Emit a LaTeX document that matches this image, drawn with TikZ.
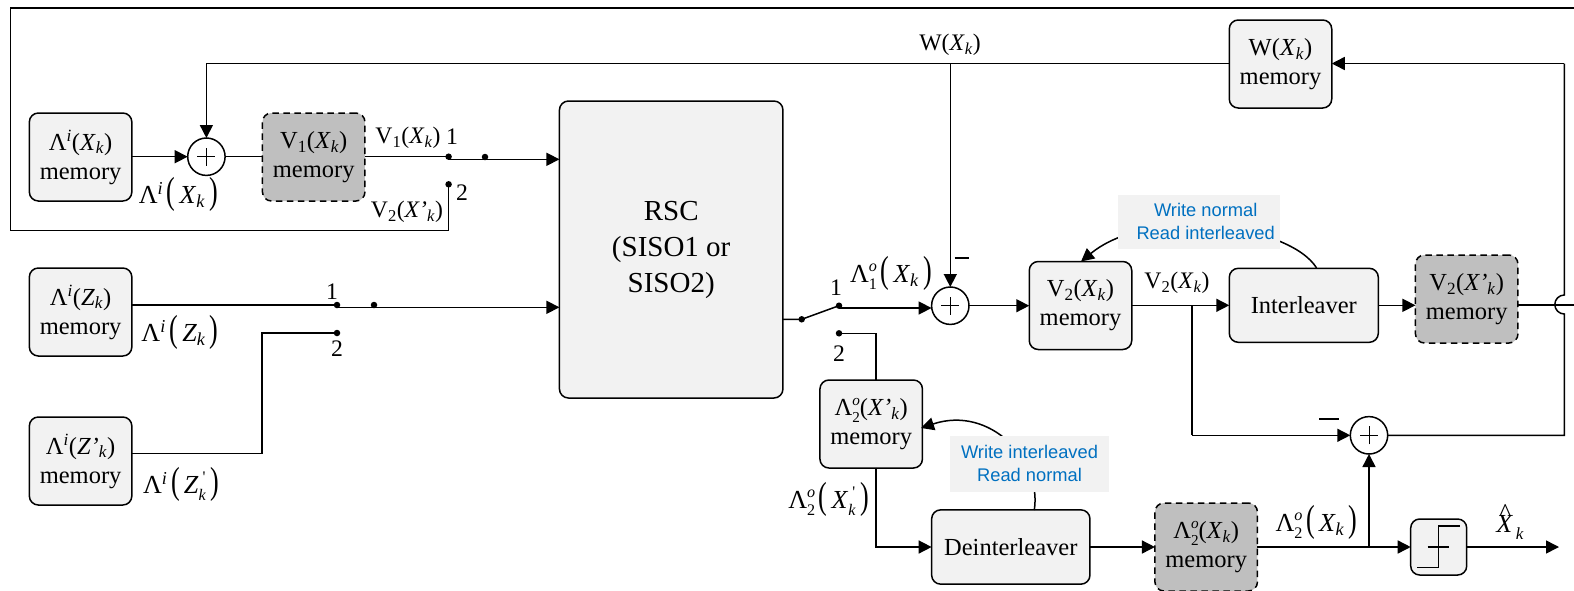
\documentclass[tikz,border=0pt]{standalone}
\usepackage{fontspec}
\setmainfont{Liberation Serif}
\newfontfamily\blue{Liberation Sans}
\usetikzlibrary{arrows.meta}
\definecolor{lightbox}{HTML}{F2F2F2}
\definecolor{graybox}{HTML}{BFBFBF}
\definecolor{noteblue}{HTML}{0070C0}
\newcommand{\ik}[1]{\textit{#1}\textsubscript{\textit{k}}}
\newcommand{\iq}[1]{\textit{#1’}\textsubscript{\textit{k}}}
\newcommand{\Li}{Λ\textsuperscript{\textit{i}}}
\newcommand{\stk}[2]{\rlap{\raisebox{0.42em}{\scalebox{0.62}{#1}}}\raisebox{-0.3em}{\scalebox{0.62}{#2}}}
\newcommand{\Lo}[1]{Λ\stk{\textit{o}}{#1}}
\newcommand{\bp}[1]{\scalebox{1}[1.45]{#1}}
\newcommand{\lbl}[2]{#1\hspace{0.14em}\bp{(}\hspace{0.16em}#2\hspace{0.16em}\bp{)}}
\newcommand{\kpr}[1]{\textit{#1}\stk{\hspace{0.25em}\textquotesingle}{\textit{k}}}
\newcommand{\hatX}{\textit{X}\llap{\raisebox{0.42em}{\textit{\^{}}\hspace{0.08em}}}}
\tikzset{
  every node/.style={font=\fontsize{24.5}{29}\selectfont, inner sep=0pt, outer sep=0pt, align=center},
  lightnode/.style={draw, line width=1.5pt, rounded corners=9pt, fill=lightbox, minimum width=102.5pt, minimum height=88pt},
  graynode/.style={draw, line width=1.5pt, rounded corners=9pt, fill=graybox, dash pattern=on 6.5pt off 4.5pt, minimum width=102.5pt, minimum height=88pt},
  sumnode/.style={circle, draw, line width=1.5pt, fill=white, minimum size=37.4pt,
    path picture={\draw[line width=1pt] ([xshift=-9pt]path picture bounding box.center) -- ([xshift=9pt]path picture bounding box.center)
      ([yshift=-9pt]path picture bounding box.center) -- ([yshift=9pt]path picture bounding box.center);}},
  dotnode/.style={circle, fill=black, minimum size=6.5pt},
  notebox/.style={fill=lightbox, text=noteblue, font=\blue\fontsize{18.3}{23}\selectfont},
  plainlabel/.style={font=\fontsize{23.7}{28}\selectfont},
  biglabel/.style={font=\fontsize{26}{30}\selectfont},
  wire/.style={line width=1.5pt},
  arr/.style={line width=1.5pt, -{Triangle[length=13pt,width=13pt]}},
}
\begin{document}
\begin{tikzpicture}[x=1pt,y=-1pt]
\useasboundingbox (0,0) rectangle (1574,590);
\clip (0,0) rectangle (1574,590);
% boxes
\node[lightnode] (lx) at (80.6,157) {\Li(\ik{X})\\memory};
\node[lightnode] (lz) at (80.6,312) {\Li(\ik{Z})\\memory};
\node[lightnode] (lzp) at (80.6,461) {\Li(\iq{Z})\\memory};
\node[graynode] (v1) at (313.7,157) {V\textsubscript{1}(\ik{X})\\memory};
\node[lightnode] (w) at (1280.5,64) {W(\ik{X})\\memory};
\node[lightnode, minimum width=223.5pt, minimum height=297pt, font=\fontsize{29}{36}\selectfont] (rsc) at (671.2,249.5) {RSC\\(SISO1 or\\SISO2)};
\node[lightnode] (v2) at (1080.5,305.5) {V\textsubscript{2}(\ik{X})\\memory};
\node[lightnode, minimum width=149pt, minimum height=74pt] (inter) at (1303.8,305.3) {Interleaver};
\node[graynode] (v2p) at (1466.7,299) {V\textsubscript{2}(\iq{X})\\memory};
\node[lightnode] (l2p) at (871.2,424) {\Lo{2}(\iq{X})\\memory};
\node[lightnode, minimum width=158.3pt, minimum height=74.3pt] (deint) at (1010.8,547) {Deinterleaver};
\node[graynode] (l2) at (1206.2,547) {\Lo{2}(\ik{X})\\memory};
\node[lightnode, minimum width=56pt, minimum height=56pt] (dec) at (1438.7,547) {};
\draw[line width=1.4pt] (1417,567.7) -- (1438.3,567.7) -- (1438.3,526) -- (1460,526);
\draw[line width=1.2pt] (1427.7,547) -- (1449.3,547);
% summing nodes
\node[sumnode] (s1) at (206.4,156.7) {};
\node[sumnode] (s2) at (950.3,305.7) {};
\node[sumnode] (s3) at (1369,435.3) {};
% switch contacts
\node[dotnode] (a1) at (448.6,156.7) {};
\node[dotnode] (a2) at (448.6,184.3) {};
\node[dotnode] (a3) at (485,157) {};
\node[dotnode] (b1) at (337,305) {};
\node[dotnode] (b2) at (337,333) {};
\node[dotnode] (b3) at (374,305) {};
\node[dotnode] (c0) at (801.7,319.3) {};
\node[dotnode] (c1) at (839,305.7) {};
\node[dotnode] (c2) at (839,333.3) {};
% free ends
\coordinate (edgetop) at (1574,8);
\coordinate (edgemid) at (1574,305);
\coordinate (fb) at (1564.3,63.5);
\coordinate (wt) at (950.3,63.5);
\coordinate (outp) at (1559,547);
% connectors
\draw[arr] (lx.east |- s1) -- (s1);
\draw[wire] (s1) -- (v1.west |- s1);
\draw[wire] (v1.east |- a1) -- (a1.center);
\draw[arr] (a1.center |- 0,159.3) -- (rsc.west |- 0,159.3);
\draw[wire] (a2.center) -- (448.6,230.7) -- (10.7,230.7) -- (10.7,8) -- (edgetop);
\draw[wire] (w.west |- fb) -- (206.4,63.5);
\draw[arr] (206.4,63.5) -- (s1);
\draw[wire] (lz.east |- b1) -- (b1.center);
\draw[arr] (b1.center |- 0,307.3) -- (rsc.west |- 0,307.3);
\draw[wire] (lzp.east |- 0,453.7) -- (262,453.7) -- (262,333) -- (b2.center);
\draw[wire] (rsc.east |- c0) -- (c0.center) -- (c1.center);
\draw[arr] (c1.center |- 0,308) -- (s2.west |- 0,308);
\draw[wire] (c2.center) -- (876,333.3) -- (876,380);
\draw[arr] (wt) -- (s2);
\draw[arr] (s2) -- (v2.west |- s2);
\draw[arr] (v2.east |- inter) -- (inter.west);
\draw[wire] (1192,305.3) -- (1192,435.3);
\draw[arr] (1192,435.3) -- (s3.west);
\draw[arr] (inter.east) -- (v2p.west |- inter);
\draw[wire] (v2p.east |- edgemid) -- (edgemid);
\draw[arr] (1564.3,63.5) -- (w.east |- fb);
\draw[wire] (fb) -- (1564.3,295) arc[start angle=-90, delta angle=-180, radius=9.5] -- (1564.3,435.3) -- (s3.east);
\draw[arr] (876,467.7) -- (876,547) -- (deint.west);
\draw[arr] (deint.east) -- (l2.west |- deint);
\draw[arr] (l2.east |- dec) -- (dec.west);
\draw[arr] (1369,547) -- (s3.south);
\draw[arr] (dec.east) -- (outp);
% note curves
\draw[arr] (1316.6,268) .. controls (1290,225) and (1150,205) .. (1081,261.5);
\draw[arr] (1034.3,510) .. controls (1042,460) and (990,405) .. (921,428);
\node[notebox, minimum width=162pt, minimum height=54pt] (n1) at (1199,221.5) {\hspace*{13.4pt}Write normal\\\hspace*{13.4pt}Read interleaved};
\node[notebox, minimum width=159pt, minimum height=55.7pt] (n2) at (1029.5,463.8) {Write interleaved\\Read normal};
% labels
\node[plainlabel] (t1) at (408,138) {V\textsubscript{1}(\ik{X})};
\node[plainlabel] (t2) at (452,137) {1};
\node[plainlabel] (t3) at (462,193) {2};
\node[plainlabel] (t4) at (407,212) {V\textsubscript{2}(\iq{X})};
\node[biglabel] (t5) at (178.5,194) {\lbl{\Li}{\ik{X}}};
\node[biglabel] (t6) at (180,332) {\lbl{\Li}{\ik{Z}}};
\node[biglabel] (t7) at (181,484) {\lbl{\Li}{\kpr{Z}}};
\node[plainlabel] (t8) at (332,292) {1};
\node[plainlabel] (t9) at (337,349) {2};
\node[plainlabel] (t10) at (950,45) {W(\ik{X})};
\node[biglabel] (t11) at (891,273) {\lbl{\Lo{1}}{\ik{X}}};
\node[plainlabel] (t12) at (836,288) {1};
\node[plainlabel] (t13) at (839,354) {2};
\node[biglabel] (t14) at (828.5,499) {\lbl{\Lo{2}}{\kpr{X}}};
\node[plainlabel] (t15) at (1177,283) {V\textsubscript{2}(\ik{X})};
\node[biglabel] (t16) at (1316.5,522) {\lbl{\Lo{2}}{\ik{X}}};
\node[biglabel] (t17) at (1510,522) {\hatX\raisebox{-0.3em}{\fontsize{17}{20}\selectfont\hspace{0.15em}\textit{k}}};
\draw[line width=1.2pt] (954.5,258) -- (969,258);
\draw[line width=1.2pt] (1319,419) -- (1339,419);
\end{tikzpicture}
\end{document}
